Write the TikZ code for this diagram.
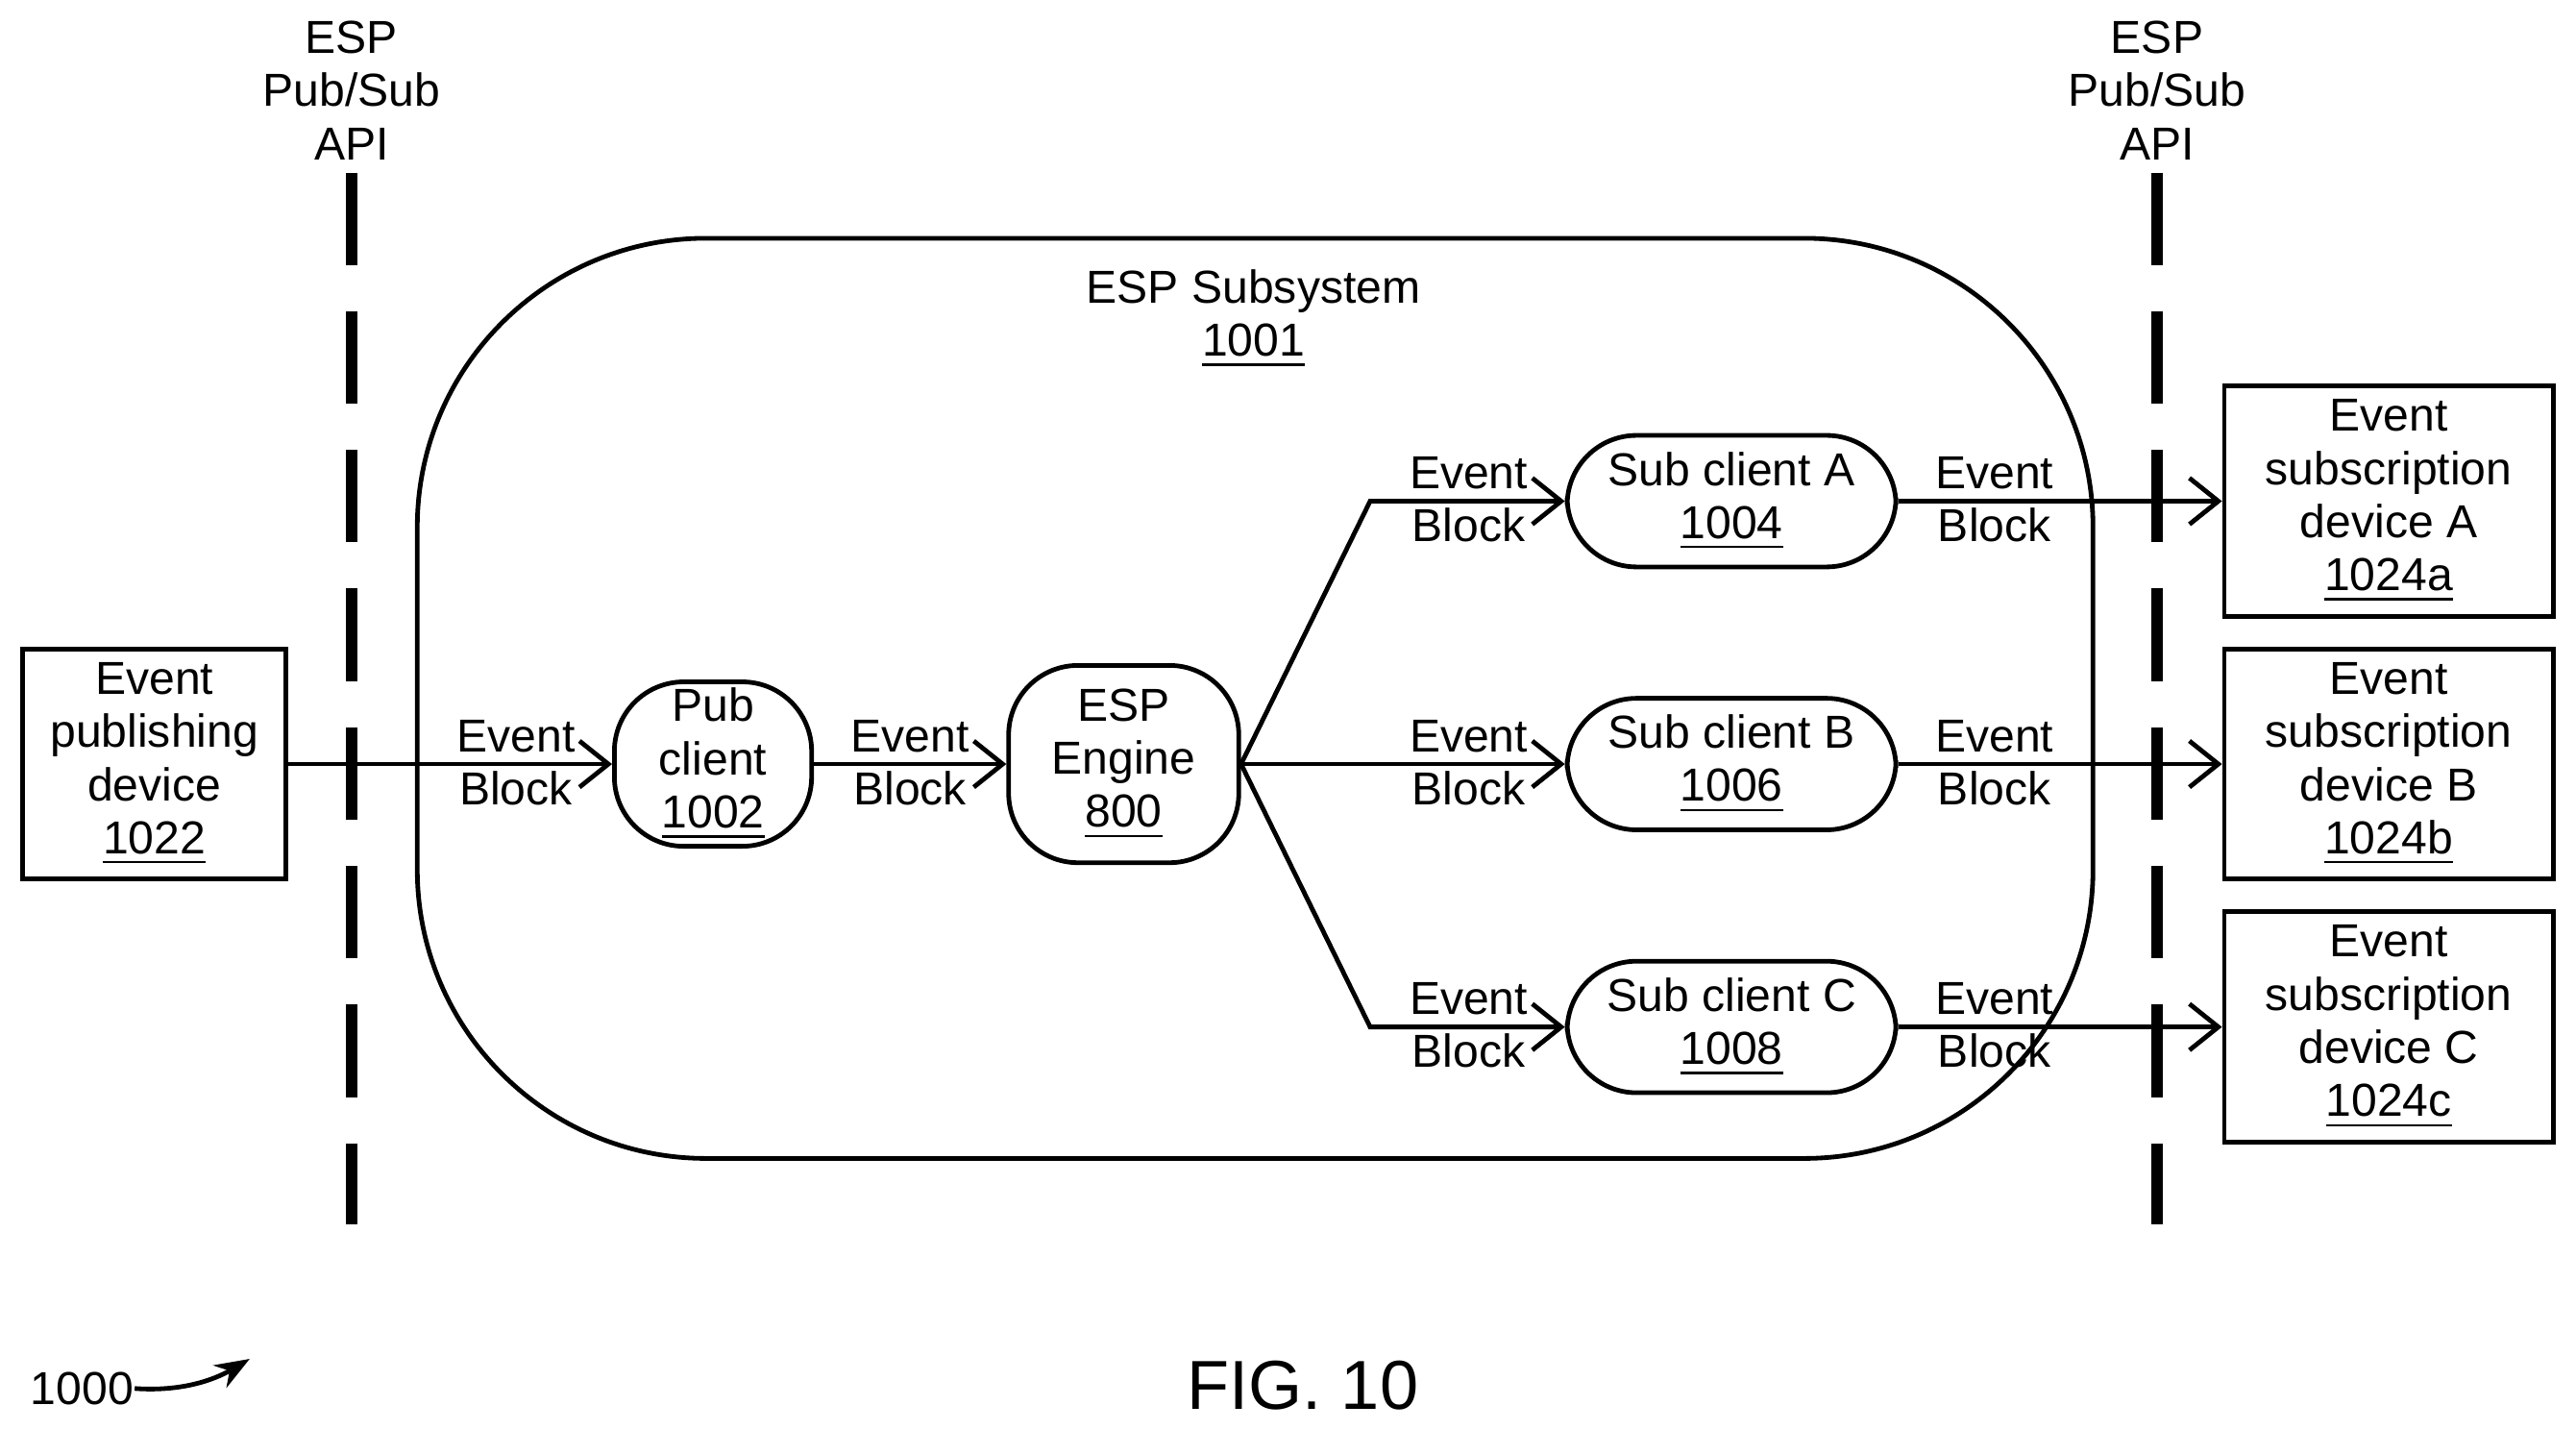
\documentclass[tikz,border=0pt]{standalone}
\usepackage{fontspec}
\setmainfont{Liberation Sans}
\usetikzlibrary{positioning, arrows.meta}

\tikzset{
    box/.style={draw, thick, align=center, inner sep=0pt},
    rbox/.style={box, rounded corners=12pt},
    lbl/.style={align=center, inner sep=0pt},
    flow/.style={thick, -{Straight Barb[length=5pt, width=8pt]}},
    api/.style={line width=2pt, dash pattern=on 16pt off 8pt}
}

\begin{document}
\begin{tikzpicture}[x=0.01cm, y=-0.01cm, font=\fontsize{8}{9.2}\selectfont]
        \useasboundingbox (0,0) rectangle (1568,870);

        % API boundaries
        \draw[api] (214,105) -- (214,745);
        \draw[api] (1313,105) -- (1313,745);
        \node[lbl] (apil) at (214,55) {ESP\\Pub/Sub\\API};
        \node[lbl] (apir) at (1313,55) {ESP\\Pub/Sub\\API};

        % Subsystem
        \draw[thick, rounded corners=50pt] (254,145) rectangle (1274,705);
        \node[lbl] (sys) at (763,194) {ESP Subsystem\\\underline{1001}};

        % Nodes
        \node[box, minimum width=160\pgflinewidth, text width=1.5cm, minimum width=1.6cm, minimum height=1.4cm] (pub) at (94,465) {Event\\publishing\\device\\\underline{1022}};
        \node[rbox, minimum width=1.2cm, minimum height=1.0cm] (pc) at (434,465) {Pub\\client\\\underline{1002}};
        \node[rbox, minimum width=1.4cm, minimum height=1.2cm] (eng) at (684,465) {ESP\\Engine\\\underline{800}};
        \node[rbox, minimum width=2.0cm, minimum height=0.8cm] (sa) at (1054,305) {Sub client A\\\underline{1004}};
        \node[rbox, minimum width=2.0cm, minimum height=0.8cm] (sb) at (1054,465) {Sub client B\\\underline{1006}};
        \node[rbox, minimum width=2.0cm, minimum height=0.8cm] (sc) at (1054,625) {Sub client C\\\underline{1008}};
        \node[box, minimum width=2.0cm, minimum height=1.4cm] (da) at (1454,305) {Event\\subscription\\device A\\\underline{1024a}};
        \node[box, minimum width=2.0cm, minimum height=1.4cm] (db) at (1454,465) {Event\\subscription\\device B\\\underline{1024b}};
        \node[box, minimum width=2.0cm, minimum height=1.4cm] (dc) at (1454,625) {Event\\subscription\\device C\\\underline{1024c}};

        % Connectors
        \coordinate (ja) at (834,305);
        \coordinate (jc) at (834,625);
        \draw[flow] (pub) -- (pc);
        \draw[flow] (pc) -- (eng);
        \draw[flow] (eng.east) -- (ja) -- (sa);
        \draw[flow] (eng) -- (sb);
        \draw[flow] (eng.east) -- (jc) -- (sc);
        \draw[flow] (sa) -- (da);
        \draw[flow] (sb) -- (db);
        \draw[flow] (sc) -- (dc);

        % Event Block labels
        \foreach \x/\y/\n in {314/464/e1, 554/464/e2, 894/304/e3, 894/464/e4, 894/624/e5, 1214/304/e6, 1214/464/e7, 1214/624/e8}
            \node[lbl] (\n) at (\x,\y) {Event\\Block};

        % Figure labels
        \node[lbl, font=\fontsize{8}{9}\selectfont] (ref) at (50,845) {1000};
        \coordinate (refend) at (152,827);
        \draw[thick, -{Stealth[length=6pt]}] (ref.east) .. controls (110,847) and (130,840) .. (refend);
        \node[lbl, font=\fontsize{12}{14}\selectfont] (fig) at (793,843) {FIG. 10};
\end{tikzpicture}
\end{document}
